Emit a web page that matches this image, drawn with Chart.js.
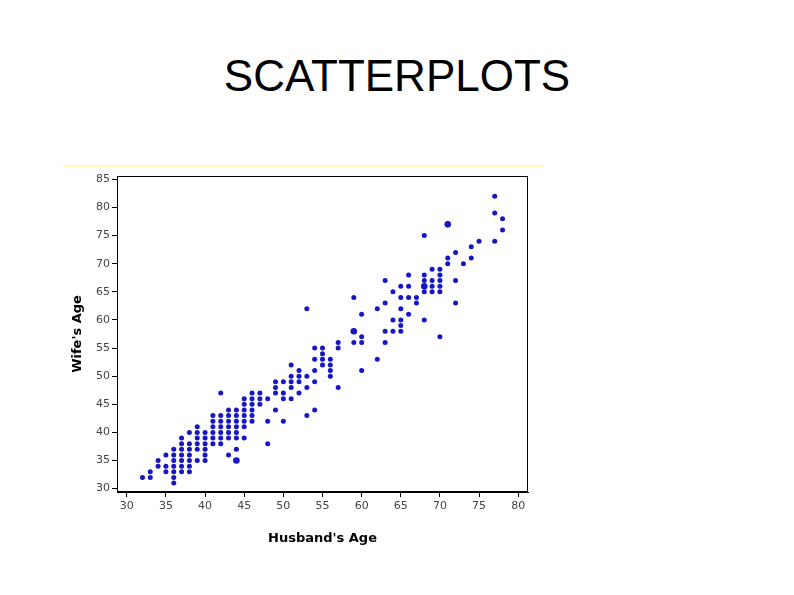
<!DOCTYPE html>
<html>
<head>
<meta charset="utf-8">
<script src="https://cdn.jsdelivr.net/npm/chart.js@4/dist/chart.umd.min.js"></script>
<style>
  body { margin: 0; width: 794px; height: 595px; background: #fff; position: relative; overflow: hidden; }
  #title { position: absolute; left: 0; top: 54px; width: 794px; text-align: center; font-family: "Liberation Sans", Arial, sans-serif; font-size: 44px; line-height: 44px; color: #000; }
  #rule { position: absolute; left: 63px; top: 165px; width: 480px; height: 2px; background: #fbf9b4; }
  #wrap { position: absolute; left: 0; top: 0; width: 794px; height: 595px; }
</style>
</head>
<body>
<div id="title">SCATTERPLOTS</div>
<div id="rule"></div>
<div id="wrap"><canvas id="chart"></canvas></div>
<script>
// one entry per couple: husband's age and wife's age
const husbandAge = [
    32,
    33, 33,
    34, 34,
    35, 35, 35,
    36, 36, 36, 36, 36, 36, 36,
    37, 37, 37, 37, 37, 37, 37,
    38, 38, 38, 38, 38, 38, 38,
    39, 39, 39, 39, 39, 39,
    40, 40, 40, 40, 40, 40,
    41, 41, 41, 41, 41, 41,
    42, 42, 42, 42, 42, 42, 42,
    43, 43, 43, 43, 43, 43, 43,
    44, 44, 44, 44, 44, 44, 44, 44,
    45, 45, 45, 45, 45, 45, 45,
    46, 46, 46, 46, 46, 46,
    47, 47, 47,
    48, 48, 48,
    49, 49, 49, 49,
    50, 50, 50, 50,
    51, 51, 51, 51, 51,
    52, 52, 52, 52,
    53, 53, 53, 53,
    54, 54, 54, 54, 54,
    55, 55, 55, 55,
    56, 56, 56, 56,
    57, 57, 57,
    59, 59, 59,
    60, 60, 60, 60,
    62, 62,
    63, 63, 63, 63,
    64, 64, 64,
    65, 65, 65, 65, 65, 65,
    66, 66, 66, 66,
    67, 67,
    68, 68, 68, 68, 68, 68,
    69, 69, 69, 69,
    70, 70, 70, 70, 70, 70,
    71, 71, 71,
    72, 72, 72,
    73,
    74, 74,
    75,
    77, 77, 77,
    78, 78
];
const wifeAge = [
    32,
    32, 33,
    34, 35,
    33, 34, 36,
    31, 32, 33, 34, 35, 36, 37,
    33, 34, 35, 36, 37, 38, 39,
    33, 34, 35, 36, 37, 38, 40,
    35, 37, 38, 39, 40, 41,
    35, 36, 37, 38, 39, 40,
    38, 39, 40, 41, 42, 43,
    38, 39, 40, 41, 42, 43, 47,
    36, 39, 40, 41, 42, 43, 44,
    35, 37, 39, 40, 41, 42, 43, 44,
    39, 41, 42, 43, 44, 45, 46,
    42, 43, 44, 45, 46, 47,
    45, 46, 47,
    38, 42, 46,
    44, 47, 48, 49,
    42, 46, 47, 49,
    46, 48, 49, 50, 52,
    47, 49, 50, 51,
    43, 48, 50, 62,
    44, 49, 51, 53, 55,
    52, 53, 54, 55,
    50, 51, 52, 53,
    48, 55, 56,
    56, 58, 64,
    51, 56, 57, 61,
    53, 62,
    56, 58, 63, 67,
    58, 60, 65,
    58, 59, 60, 62, 64, 66,
    61, 64, 66, 68,
    63, 64,
    60, 65, 66, 67, 68, 75,
    65, 66, 67, 69,
    57, 65, 66, 67, 68, 69,
    70, 71, 77,
    63, 67, 72,
    70,
    71, 73,
    74,
    74, 79, 82,
    76, 78
];
// couples that occur more than once show as a heavier dot
const repeatedHusband = [44, 59, 68, 71];
const repeatedWife = [35, 58, 66, 77];

const xTicks = [30, 35, 40, 45, 50, 55, 60, 65, 70, 75, 80];
const yTicks = [30, 35, 40, 45, 50, 55, 60, 65, 70, 75, 80, 85];

const dotColor = 'rgb(22,22,196)';

function toPoints(xs, ys) {
    let pts = [];
    for (let i = 0; i < xs.length; i++) {
        pts.push({ x: xs[i], y: ys[i] });
    }
    return pts;
}

// black box round the plot area
const frame = {
    id: 'frame',
    afterDraw(chart) {
        const a = chart.chartArea;
        const ctx = chart.ctx;
        ctx.save();
        ctx.strokeStyle = '#000';
        ctx.lineWidth = 1;
        ctx.strokeRect(Math.round(a.left) + 0.5, Math.round(a.top) + 0.5,
            Math.round(a.right - a.left) - 1, Math.round(a.bottom - a.top) - 1);
        ctx.restore();
    }
};

const tickFont = { family: 'DejaVu Sans', size: 11 };

new Chart(document.getElementById('chart'), {
    type: 'scatter',
    data: {
        datasets: [
            {
                data: toPoints(husbandAge, wifeAge),
                backgroundColor: dotColor,
                borderWidth: 0,
                pointRadius: 2.5
            },
            {
                data: toPoints(repeatedHusband, repeatedWife),
                backgroundColor: dotColor,
                borderWidth: 0,
                pointRadius: 3.3
            }
        ]
    },
    options: {
        responsive: true,
        maintainAspectRatio: false,
        animation: false,
        layout: { padding: { left: 60, top: 176, right: 266, bottom: 45 } },
        plugins: {
            legend: { display: false },
            tooltip: { enabled: false }
        },
        scales: {
            x: {
                type: 'linear',
                min: 28.75,
                max: 81.25,
                afterBuildTicks: (scale) => { scale.ticks = xTicks.map(v => ({ value: v })); },
                afterFit: (scale) => { scale.height = 58; },
                grid: { drawOnChartArea: false, drawTicks: true, tickLength: 5, color: '#000' },
                border: { display: true, color: '#000' },
                ticks: { color: '#444', font: tickFont, padding: 3, maxRotation: 0 },
                title: {
                    display: true,
                    text: "Husband's Age",
                    color: '#000',
                    font: { family: 'DejaVu Sans', size: 13, weight: 'bold' },
                    padding: { top: 4, bottom: 4 }
                }
            },
            y: {
                type: 'linear',
                min: 29.4,
                max: 85.6,
                afterBuildTicks: (scale) => { scale.ticks = yTicks.map(v => ({ value: v })); },
                afterFit: (scale) => { scale.width = 57; },
                grid: { drawOnChartArea: false, drawTicks: true, tickLength: 5, color: '#000' },
                border: { display: true, color: '#000' },
                ticks: { color: '#444', font: tickFont, padding: 2 },
                title: {
                    display: true,
                    text: "Wife's Age",
                    color: '#000',
                    font: { family: 'DejaVu Sans', size: 13, weight: 'bold' },
                    padding: { top: 10, bottom: 0 }
                }
            }
        }
    },
    plugins: [frame]
});
</script>
</body>
</html>
